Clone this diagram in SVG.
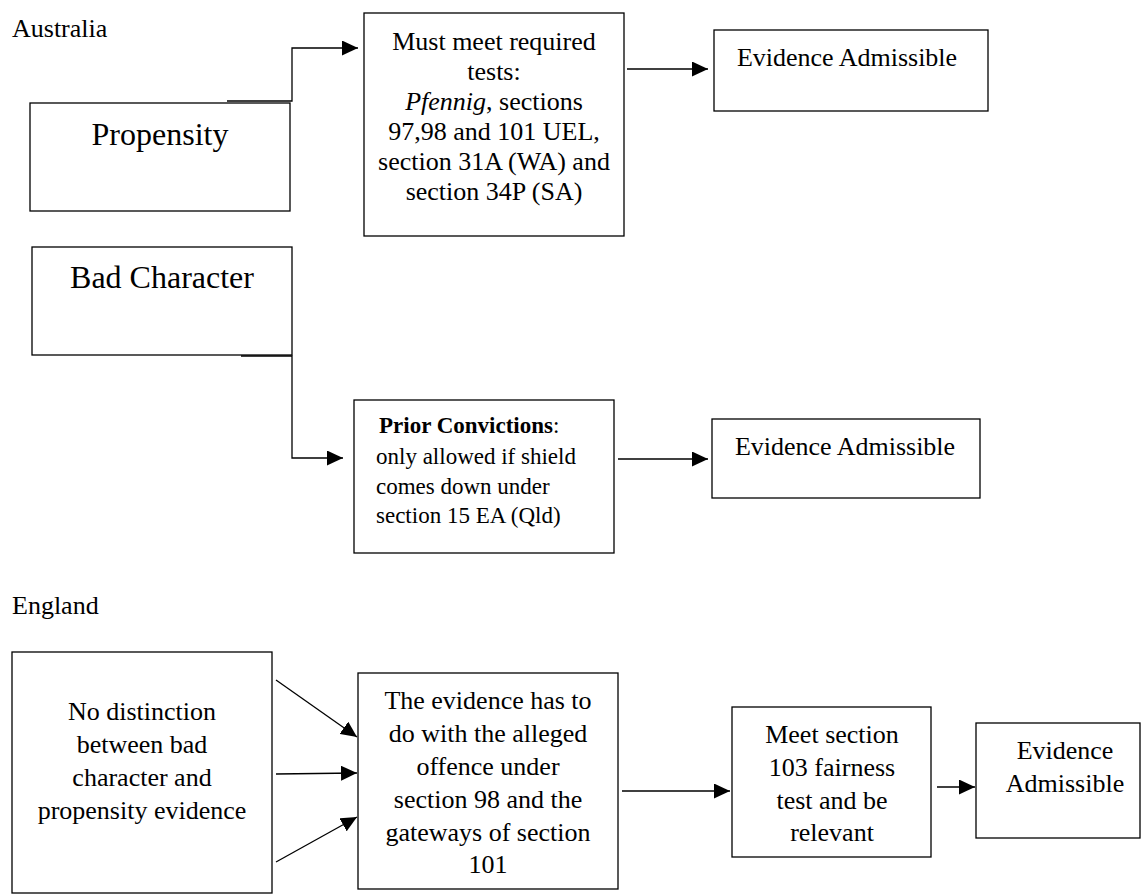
<svg xmlns="http://www.w3.org/2000/svg" width="1143" height="896" viewBox="0 0 1143 896" font-family="'Liberation Serif', 'Times New Roman', serif">
  <style>
    text { font-family: "Liberation Serif", "Times New Roman", serif; fill: #000; }
    .box { fill: #fff; stroke: #000; stroke-width: 1.3; }
    .wire { fill: none; stroke: #000; stroke-width: 1.3; }
  </style>
  <defs>
    <marker id="arrow" markerUnits="userSpaceOnUse" markerWidth="16" markerHeight="15" refX="16" refY="7.5" orient="auto">
      <path d="M0,0 L16,7.5 L0,15 z" fill="#000"/>
    </marker>
  </defs>

  <rect width="1143" height="896" fill="#fff"/>

  <!-- section headings -->
  <text x="12" y="37" font-size="26">Australia</text>
  <text x="12" y="614" font-size="26">England</text>

  <!-- Australia -->
  <g id="propensity">
    <rect class="box" x="30" y="103" width="260" height="108"/>
    <text x="160" y="145" font-size="32" text-anchor="middle">Propensity</text>
  </g>

  <g id="required-tests" font-size="26" text-anchor="middle">
    <rect class="box" x="364" y="13" width="260" height="223"/>
    <text x="494" y="50">Must meet required</text>
    <text x="494" y="80">tests:</text>
    <text x="494" y="110"><tspan font-style="italic">Pfennig</tspan>, sections</text>
    <text x="494" y="140">97,98 and 101 UEL,</text>
    <text x="494" y="170">section 31A (WA) and</text>
    <text x="494" y="200">section 34P (SA)</text>
  </g>

  <g id="admissible-au-1" font-size="26" text-anchor="middle">
    <rect class="box" x="714" y="30" width="274" height="81"/>
    <text x="847" y="66">Evidence Admissible</text>
  </g>

  <g id="bad-character">
    <rect class="box" x="32" y="247" width="260" height="108"/>
    <text x="162" y="288" font-size="32" text-anchor="middle">Bad Character</text>
  </g>

  <g id="prior-convictions" font-size="23">
    <rect class="box" x="354" y="400" width="260" height="153"/>
    <text x="379" y="433"><tspan font-weight="bold">Prior Convictions</tspan>:</text>
    <text x="376" y="464">only allowed if shield</text>
    <text x="376" y="494">comes down under</text>
    <text x="376" y="523">section 15 EA (Qld)</text>
  </g>

  <g id="admissible-au-2" font-size="26" text-anchor="middle">
    <rect class="box" x="712" y="419" width="268" height="79"/>
    <text x="845" y="455">Evidence Admissible</text>
  </g>

  <!-- England -->
  <g id="no-distinction" font-size="26" text-anchor="middle">
    <rect class="box" x="12" y="652" width="260" height="241"/>
    <text x="142" y="720">No distinction</text>
    <text x="142" y="753">between bad</text>
    <text x="142" y="786">character and</text>
    <text x="142" y="819">propensity evidence</text>
  </g>

  <g id="section-98-101" font-size="26" text-anchor="middle">
    <rect class="box" x="358" y="673" width="260" height="216"/>
    <text x="488" y="709">The evidence has to</text>
    <text x="488" y="742">do with the alleged</text>
    <text x="488" y="775">offence under</text>
    <text x="488" y="808">section 98 and the</text>
    <text x="488" y="841">gateways of section</text>
    <text x="488" y="873">101</text>
  </g>

  <g id="fairness-test" font-size="26" text-anchor="middle">
    <rect class="box" x="732" y="707" width="199" height="150"/>
    <text x="832" y="743">Meet section</text>
    <text x="832" y="776">103 fairness</text>
    <text x="832" y="809">test and be</text>
    <text x="832" y="841">relevant</text>
  </g>

  <g id="admissible-en" font-size="26" text-anchor="middle">
    <rect class="box" x="976" y="723" width="164" height="115"/>
    <text x="1065" y="759">Evidence</text>
    <text x="1065" y="792">Admissible</text>
  </g>

  <!-- connectors -->
  <g id="connectors">
    <polyline class="wire" points="227,101 292,101 292,48 358,48" marker-end="url(#arrow)"/>
    <line class="wire" x1="627" y1="69" x2="708" y2="69" marker-end="url(#arrow)"/>
    <polyline class="wire" points="241,356 292,356 292,458 343,458" marker-end="url(#arrow)"/>
    <line class="wire" x1="618" y1="459" x2="708" y2="459" marker-end="url(#arrow)"/>
    <line class="wire" x1="276" y1="680" x2="357" y2="737" marker-end="url(#arrow)"/>
    <line class="wire" x1="276" y1="774" x2="357" y2="773" marker-end="url(#arrow)"/>
    <line class="wire" x1="276" y1="862" x2="357" y2="817" marker-end="url(#arrow)"/>
    <line class="wire" x1="622" y1="791" x2="730" y2="791" marker-end="url(#arrow)"/>
    <line class="wire" x1="937" y1="787" x2="975" y2="787" marker-end="url(#arrow)"/>
  </g>
</svg>
